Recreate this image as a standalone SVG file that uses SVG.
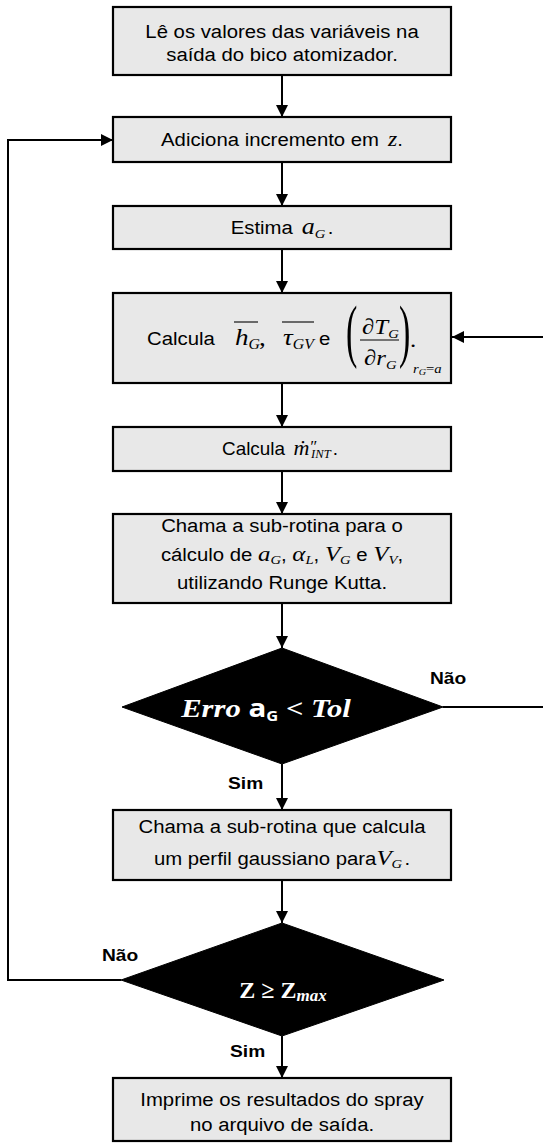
<svg xmlns="http://www.w3.org/2000/svg" width="543" height="1143" viewBox="0 0 543 1143">
<style>
.box{fill:#e8e8e8;stroke:#000;stroke-width:2.2}
.dia{fill:#000;stroke:#000;stroke-width:1}
.ln{fill:none;stroke:#000;stroke-width:2}
.thin{stroke:#000;stroke-width:1.1}
.t{font-family:"Liberation Sans",Arial,sans-serif;font-size:18px;fill:#000}
.m{font-family:"Liberation Serif","DejaVu Serif",serif;font-style:italic}
.s{font-family:"Liberation Serif","DejaVu Serif",serif}
.lb{font-family:"Liberation Sans",Arial,sans-serif;font-size:17px;font-weight:bold;fill:#000}
.w{fill:#fff;font-weight:bold}
</style>
<defs>
<marker id="ah" markerWidth="12" markerHeight="12" refX="12" refY="6" orient="auto" markerUnits="userSpaceOnUse">
<path d="M0,0 L12,6 L0,12 Z" fill="#000"/>
</marker>
</defs>

<g id="connectors">
<line class="ln" x1="282" y1="75" x2="282" y2="117" marker-end="url(#ah)"/>
<line class="ln" x1="282" y1="162" x2="282" y2="206" marker-end="url(#ah)"/>
<line class="ln" x1="282" y1="249" x2="282" y2="293" marker-end="url(#ah)"/>
<line class="ln" x1="282" y1="383" x2="282" y2="427" marker-end="url(#ah)"/>
<line class="ln" x1="282" y1="471" x2="282" y2="514" marker-end="url(#ah)"/>
<line class="ln" x1="282" y1="603" x2="282" y2="648" marker-end="url(#ah)"/>
<line class="ln" x1="282" y1="764" x2="282" y2="810" marker-end="url(#ah)"/>
<line class="ln" x1="282" y1="880" x2="282" y2="923" marker-end="url(#ah)"/>
<line class="ln" x1="282" y1="1036" x2="282" y2="1078" marker-end="url(#ah)"/>
<path class="ln" d="M443,707 H546 V337 H452" marker-end="url(#ah)"/>
<path class="ln" d="M121,980 H8 V140 H113" marker-end="url(#ah)"/>
<text class="lb" transform="translate(430,684) scale(1.13,1)">Não</text>
<text class="lb" transform="translate(228,789) scale(1.13,1)">Sim</text>
<text class="lb" transform="translate(102,961) scale(1.13,1)">Não</text>
<text class="lb" transform="translate(230,1057) scale(1.13,1)">Sim</text>
</g>

<g id="n1">
<rect class="box" x="113" y="7" width="338" height="68"/>
<text class="t" text-anchor="middle" transform="translate(282,38) scale(1.13,1)">Lê os valores das variáveis na</text>
<text class="t" text-anchor="middle" transform="translate(282,61) scale(1.13,1)">saída do bico atomizador.</text>
</g>

<g id="n2">
<rect class="box" x="113" y="117" width="338" height="45"/>
<text class="t" text-anchor="middle" transform="translate(282,146) scale(1.13,1)">Adiciona incremento em <tspan class="m" font-size="21" dx="3">z</tspan>.</text>
</g>

<g id="n3">
<rect class="box" x="113" y="206" width="338" height="43"/>
<text class="t" text-anchor="middle" transform="translate(282,234) scale(1.13,1)">Estima <tspan class="m" font-size="23" dx="3">a</tspan><tspan class="m" font-size="13" dy="4">G</tspan><tspan dy="-4" dx="2">.</tspan></text>
</g>

<g id="n4">
<rect class="box" x="113" y="293" width="338" height="90"/>
<text class="t" transform="translate(147,345) scale(1.13,1)">Calcula</text>
<line class="thin" x1="234" y1="322" x2="258" y2="322"/>
<text class="m" font-size="24" transform="translate(235,345) scale(1.13,1)">h<tspan font-size="14" dy="4">G</tspan></text>
<text class="s" font-size="24" transform="translate(259,345) scale(1.13,1)">,</text>
<line class="thin" x1="282" y1="322" x2="314" y2="322"/>
<text class="m" font-size="24" transform="translate(283,345) scale(1.13,1)">τ<tspan font-size="14" dy="4">GV</tspan></text>
<text class="t" transform="translate(319,345) scale(1.13,1)">e</text>
<text class="s" font-size="40" transform="translate(346,354) scale(0.85,1.75)">(</text>
<text class="s" font-size="22" transform="translate(362,334) scale(1.13,1)">∂<tspan class="m">T</tspan><tspan class="m" font-size="13" dy="4">G</tspan></text>
<line class="thin" x1="360" y1="340" x2="399" y2="340"/>
<text class="s" font-size="22" transform="translate(364,365) scale(1.13,1)">∂<tspan class="m">r</tspan><tspan class="m" font-size="13" dy="4">G</tspan></text>
<text class="s" font-size="40" transform="translate(399,354) scale(0.85,1.75)">)</text>
<text class="s" font-size="22" transform="translate(410,347) scale(1.13,1)">.</text>
<text class="m" font-size="13" transform="translate(413,373) scale(1.13,1)">r<tspan font-size="9" dy="2">G</tspan><tspan class="s" font-style="normal" dy="-2">=</tspan>a</text>
</g>

<g id="n5">
<rect class="box" x="113" y="427" width="338" height="44"/>
<text class="t" text-anchor="middle" transform="translate(280,455) scale(1.05,1)">Calcula <tspan class="m" font-size="21" dx="3">ṁ</tspan><tspan class="m" font-size="16" dy="-3">″</tspan><tspan class="m" font-size="12" dy="6" dx="-5">INT</tspan><tspan dy="-3" dx="2">.</tspan></text>
</g>

<g id="n6">
<rect class="box" x="113" y="514" width="338" height="89"/>
<text class="t" text-anchor="middle" transform="translate(282,532) scale(1.13,1)">Chama a sub-rotina para o</text>
<text class="t" text-anchor="middle" transform="translate(282,561) scale(1.13,1)">cálculo de <tspan class="m" font-size="22">a</tspan><tspan class="m" font-size="13" dy="3">G</tspan><tspan dy="-3">, </tspan><tspan class="m" font-size="22">α</tspan><tspan class="m" font-size="13" dy="3">L</tspan><tspan dy="-3">, </tspan><tspan class="m" font-size="22">V</tspan><tspan class="m" font-size="13" dy="3">G</tspan><tspan dy="-3"> e </tspan><tspan class="m" font-size="22">V</tspan><tspan class="m" font-size="13" dy="3">V</tspan><tspan dy="-3">,</tspan></text>
<text class="t" text-anchor="middle" transform="translate(282,589) scale(1.13,1)">utilizando Runge Kutta.</text>
</g>

<g id="d1">
<polygon class="dia" points="282,648 443,707 282,764 122,707"/>
<text class="w" text-anchor="middle" transform="translate(266,717) scale(1.18,1)"><tspan class="m" font-size="26">Erro </tspan><tspan font-family="Open Sans" font-size="25">a</tspan><tspan font-family="Open Sans" font-size="14" dy="4">G</tspan><tspan class="m" font-size="26" dy="-4"> &lt; Tol</tspan></text>
</g>

<g id="n7">
<rect class="box" x="113" y="810" width="338" height="70"/>
<text class="t" text-anchor="middle" transform="translate(282,833) scale(1.13,1)">Chama a sub-rotina que calcula</text>
<text class="t" text-anchor="middle" transform="translate(282,865) scale(1.13,1)">um perfil gaussiano para<tspan class="m" font-size="22">V</tspan><tspan class="m" font-size="13" dy="3">G</tspan><tspan dy="-3" dx="2">.</tspan></text>
</g>

<g id="d2">
<polygon class="dia" points="282,923 444,980 282,1036 121,980"/>
<text class="w s" font-size="24" text-anchor="middle" x="283" y="998">Z ≥ Z<tspan class="m" font-size="17" dy="3">max</tspan></text>
</g>

<g id="n8">
<rect class="box" x="113" y="1078" width="338" height="63"/>
<text class="t" text-anchor="middle" transform="translate(282,1106) scale(1.13,1)">Imprime os resultados do spray</text>
<text class="t" text-anchor="middle" transform="translate(282,1131) scale(1.13,1)">no arquivo de saída.</text>
</g>
</svg>
